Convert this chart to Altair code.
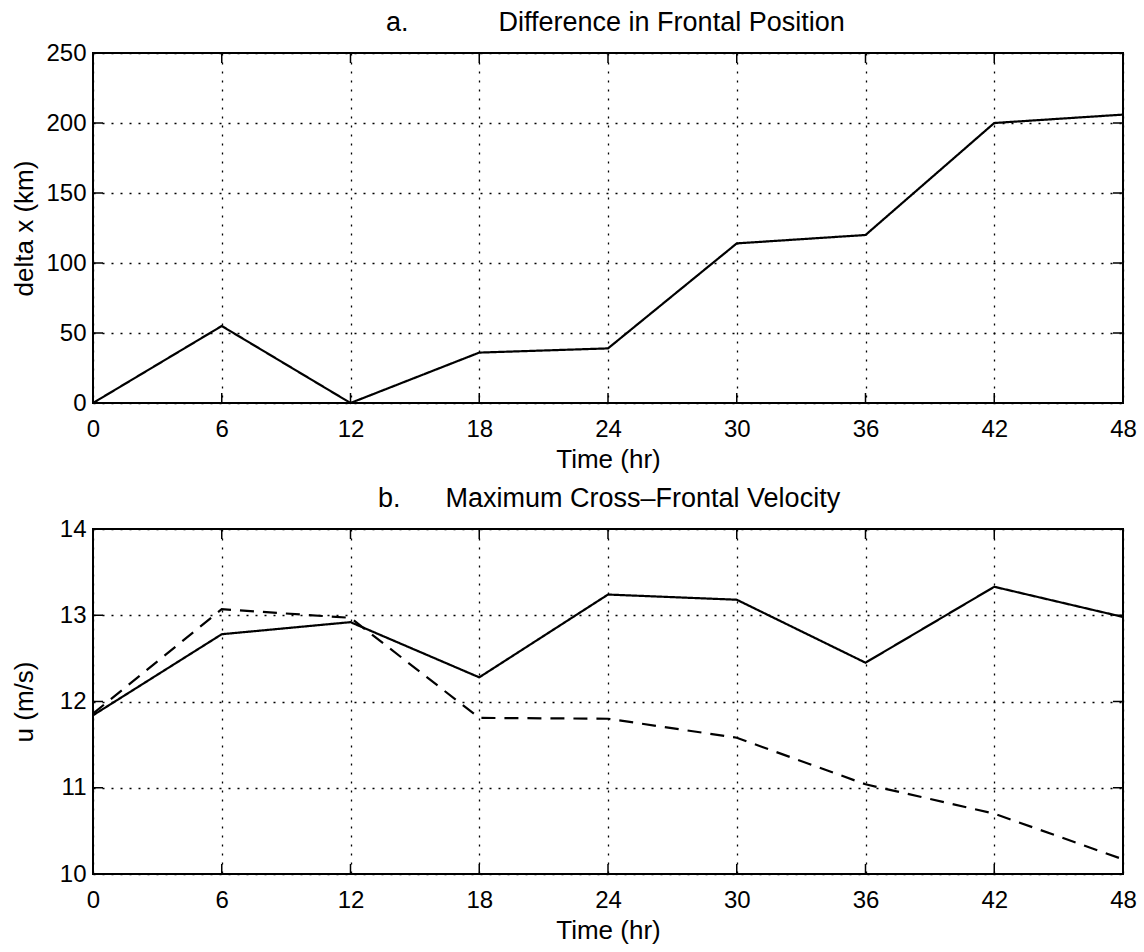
import altair as alt
import pandas as pd

# ---- data ----
hours = [0, 6, 12, 18, 24, 30, 36, 42, 48]
delta_x = [0, 55, 0, 36, 39, 114, 120, 200, 206]
u_solid = [11.84, 12.78, 12.92, 12.28, 13.24, 13.18, 12.45, 13.33, 12.98]
u_dashed = [11.86, 13.07, 12.97, 11.81, 11.80, 11.58, 11.04, 10.70, 10.17]
x_ticks = [0, 6, 12, 18, 24, 30, 36, 42, 48]
ya_ticks = [0, 50, 100, 150, 200, 250]
yb_ticks = [10, 11, 12, 13, 14]
title_a = "a." + "\u00a0" * 12 + "Difference in Frontal Position"
title_b = "b." + "\u00a0" * 6 + "Maximum Cross\u2013Frontal Velocity"

FONT = "Liberation Sans"
W = 1030
HA = 350
HB = 345
TICK = 10
PAD_LEFT = 10


def x_axis():
    return alt.Axis(values=x_ticks, title="Time (hr)", labelFont=FONT, labelFontSize=24,
                    labelColor="black", labelPadding=14, labelFlush=False, labelOverlap=False,
                    ticks=False, domain=False, grid=True, gridColor="black", gridDash=[2, 7],
                    gridWidth=1.3, gridOpacity=1, titleFont=FONT, titleFontSize=26,
                    titleFontWeight="normal", titleColor="black", titlePadding=5)


def y_axis(ticks, title, h):
    return alt.Axis(values=ticks, title=title, labelFont=FONT, labelFontSize=24,
                    labelColor="black", labelPadding=7, labelFlush=False, labelOverlap=False,
                    ticks=False, domain=False, grid=True, gridColor="black", gridDash=[2, 7],
                    gridWidth=1.3, gridOpacity=1, titleFont=FONT, titleFontSize=26,
                    titleFontWeight="normal", titleColor="black", titleAngle=270,
                    titleX=-(92 - PAD_LEFT) + 13, titleY=h / 2, titleBaseline="middle",
                    titleAlign="center")


def panel(series, y_ticks, y_dom, y_title, title_text, title_dx, h):
    xs = alt.Scale(domain=[0, 48], nice=False, zero=False)
    ys = alt.Scale(domain=y_dom, nice=False, zero=False)
    xenc = alt.X("hour:Q", scale=xs, axis=x_axis())
    yenc = alt.Y("val:Q", scale=ys, axis=y_axis(y_ticks, y_title, h))
    layers = []
    for vals, dash in series:
        df = pd.DataFrame({"hour": hours, "val": vals})
        layers.append(
            alt.Chart(df).mark_line(color="black", strokeWidth=2.2, strokeDash=dash).encode(
                x=xenc, y=yenc)
        )
    xt = pd.DataFrame({"hour": x_ticks})
    yt = pd.DataFrame({"val": y_ticks})
    tick_style = dict(color="black", strokeWidth=1.5)
    layers.append(alt.Chart(xt).mark_rule(**tick_style).encode(
        x=xenc, y=alt.value(0), y2=alt.value(TICK)))
    layers.append(alt.Chart(xt).mark_rule(**tick_style).encode(
        x=xenc, y=alt.value(h - TICK), y2=alt.value(h)))
    layers.append(alt.Chart(yt).mark_rule(**tick_style).encode(
        y=yenc, x=alt.value(0), x2=alt.value(TICK)))
    layers.append(alt.Chart(yt).mark_rule(**tick_style).encode(
        y=yenc, x=alt.value(W - TICK), x2=alt.value(W)))
    return alt.layer(*layers).properties(
        width=W, height=h,
        title=alt.TitleParams(text=title_text, font=FONT, fontSize=27, fontWeight="normal",
                              color="black", anchor="start", frame="group", dx=title_dx,
                              offset=4),
    )


top = panel([(delta_x, [1, 0])], ya_ticks, [0, 250], "delta x (km)", title_a, 293, HA)
bottom = panel([(u_solid, [1, 0]), (u_dashed, [14, 9])], yb_ticks, [10, 14], "u (m/s)",
               title_b, 285, HB)

chart = alt.vconcat(top, bottom, spacing=11).properties(
    padding={"left": PAD_LEFT, "top": 8, "right": 5, "bottom": 5},
    background="white",
).configure_view(stroke="black", strokeWidth=2)

chart.save("out.html", embed_options={"renderer": "svg", "actions": False})
